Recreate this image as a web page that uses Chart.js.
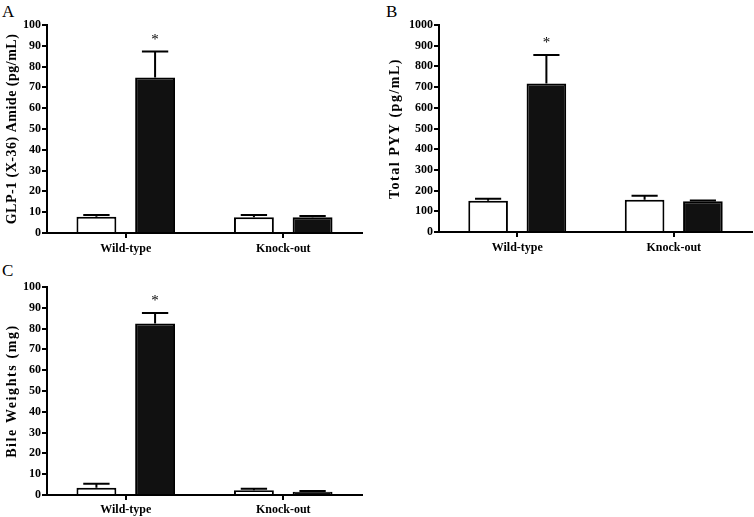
<!DOCTYPE html>
<html>
<head>
<meta charset="utf-8">
<script src="https://cdn.jsdelivr.net/npm/chart.js@4"></script>
<style>
  body { margin: 0; background: #fff; width: 754px; height: 517px; position: relative; overflow: hidden; }
  canvas { position: absolute; }
  .tag { position: absolute; font-family: "Liberation Serif", "Times New Roman", serif; font-size: 17px; color: #000; line-height: 1; }
</style>
</head>
<body>
<div class="tag" style="left:2px;top:3px">A</div>
<div class="tag" style="left:386px;top:3px">B</div>
<div class="tag" style="left:2px;top:262px">C</div>
<canvas id="chartA" width="372" height="258" style="left:0;top:0"></canvas>
<canvas id="chartB" width="374" height="258" style="left:380px;top:0"></canvas>
<canvas id="chartC" width="372" height="257" style="left:0;top:260px"></canvas>
<script>
const groups = ["Wild-type", "Knock-out"];

// GLP-1 (X-36) amide, pg/mL
const glpOpen = [7.8, 7.6];
const glpOpenSem = [0.9, 1.1];
const glpFilled = [74.8, 7.6];
const glpFilledSem = [12.4, 0.6];

// total PYY, pg/mL
const pyyOpen = [151, 156];
const pyyOpenSem = [10, 19];
const pyyFilled = [717, 148];
const pyyFilledSem = [138, 4];

// bile weights, mg
const bileOpen = [3.5, 2.3];
const bileOpenSem = [1.9, 0.7];
const bileFilled = [82.4, 1.6];
const bileFilledSem = [5.1, 0.3];

// which bar gets the asterisk: [dataset, index]
const starAt = [1, 0];

const serif = "'Liberation Serif', 'Times New Roman', serif";

const errorBars = {
  id: "errorBars",
  afterDatasetsDraw(chart) {
    const ctx = chart.ctx;
    const y = chart.scales.y;
    ctx.save();
    ctx.strokeStyle = "#000";
    ctx.lineWidth = 2;
    chart.data.datasets.forEach((ds, i) => {
      const meta = chart.getDatasetMeta(i);
      meta.data.forEach((bar, j) => {
        const top = y.getPixelForValue(ds.data[j] + ds.sem[j]);
        const half = bar.width * 0.33;
        ctx.beginPath();
        ctx.moveTo(bar.x, bar.y);
        ctx.lineTo(bar.x, top);
        ctx.moveTo(bar.x - half, top);
        ctx.lineTo(bar.x + half, top);
        ctx.stroke();
        if (i === starAt[0] && j === starAt[1]) {
          ctx.fillStyle = "#000";
          ctx.font = "15px " + serif;
          ctx.textAlign = "center";
          ctx.textBaseline = "middle";
          ctx.fillText("*", bar.x, top - 12);
        }
      });
    });
    ctx.restore();
  }
};

// the axis titles in the figure are set a bit loose; tick labels are drawn later (z 1)
const titleSpacing = {
  id: "titleSpacing",
  beforeDraw(chart, args, o) { chart.ctx.letterSpacing = o.px + "px"; },
  beforeDatasetsDraw(chart) { chart.ctx.letterSpacing = "0px"; }
};

function makePanel(id, title, open, openSem, filled, filledSem, opts) {
  new Chart(document.getElementById(id), {
    type: "bar",
    data: {
      labels: groups,
      datasets: [
        { data: open, sem: openSem, backgroundColor: "#fff", borderColor: "#000", borderWidth: 2 },
        { data: filled, sem: filledSem, backgroundColor: "#111", borderColor: "#000", borderWidth: 2 }
      ]
    },
    options: {
      responsive: false,
      animation: false,
      categoryPercentage: 0.745,
      barPercentage: 0.68,
      layout: { padding: { left: 0, top: opts.top, right: opts.right, bottom: 0 } },
      plugins: {
        legend: { display: false },
        tooltip: { enabled: false },
        titleSpacing: { px: opts.ls }
      },
      scales: {
        x: {
          afterFit: s => { s.height = opts.xh; },
          grid: { offset: false, drawOnChartArea: false, color: "#000", lineWidth: 2, tickLength: 5 },
          border: { color: "#000", width: 2 },
          ticks: { z: 1, color: "#000", padding: opts.xpad, font: { family: serif, size: 12, weight: "bold" } }
        },
        y: {
          min: 0,
          max: opts.max,
          afterFit: s => { s.width = opts.yw; },
          grid: { drawOnChartArea: false, color: "#000", lineWidth: 2, tickLength: 5 },
          border: { color: "#000", width: 2 },
          ticks: {
            z: 1,
            stepSize: opts.step,
            color: "#000",
            padding: 1,
            font: { family: serif, size: 12, weight: "bold" },
            callback: v => String(v)
          },
          title: {
            display: true,
            text: title,
            color: "#000",
            padding: { top: opts.tpad, bottom: 0 },
            font: { family: serif, size: 14, weight: "bold" }
          }
        }
      }
    },
    plugins: [errorBars, titleSpacing]
  });
}

makePanel("chartA", "GLP-1 (X-36) Amide (pg/mL)", glpOpen, glpOpenSem, glpFilled, glpFilledSem,
  { top: 25, right: 10, xh: 25, yw: 47, max: 100, step: 10, xpad: 4, tpad: 4, ls: 0.5 });
makePanel("chartB", "Total PYY (pg/mL)", pyyOpen, pyyOpenSem, pyyFilled, pyyFilledSem,
  { top: 25, right: 2, xh: 26, yw: 59, max: 1000, step: 100, xpad: 4, tpad: 7, ls: 1.5 });
makePanel("chartC", "Bile Weights (mg)", bileOpen, bileOpenSem, bileFilled, bileFilledSem,
  { top: 27, right: 10, xh: 22, yw: 47, max: 100, step: 10, xpad: 3, tpad: 4, ls: 1.6 });
</script>
</body>
</html>
